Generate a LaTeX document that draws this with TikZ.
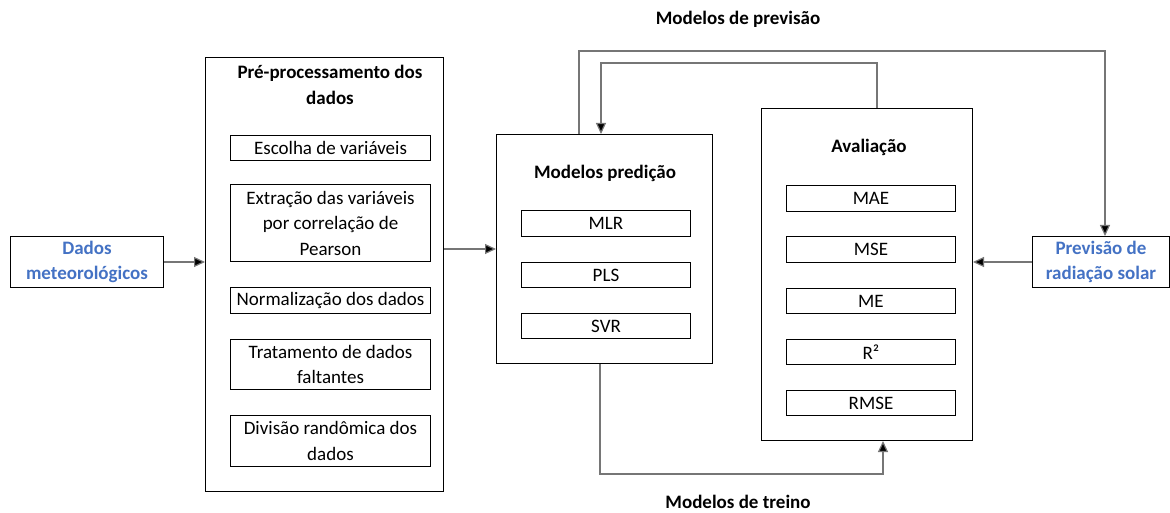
\documentclass[tikz,border=0pt]{standalone}
\usepackage{fontspec}
\setmainfont{Carlito}
\usetikzlibrary{arrows.meta}
\definecolor{azul}{HTML}{4472C4}
\definecolor{linha}{HTML}{767676}

\begin{document}
\begin{tikzpicture}[x=1pt,y=-1pt]
    \tikzset{every node/.style={inner sep=0pt, align=center, font=\fontsize{19}{25.5}\selectfont},
      box/.style={draw=black, line width=1pt, anchor=north west},
      titulo/.style={font=\fontsize{19}{25.5}\selectfont\bfseries},
      fonte/.style={box, text=azul, font=\fontsize{19}{25.5}\selectfont\bfseries},
      liga/.style={draw=linha, line width=1.2pt, -{Triangle[length=11pt,width=10pt,fill=black]}}}
    \useasboundingbox (0,0) rectangle (1170,513);
    % entrada e saida
    \node [fonte, minimum width=153, minimum height=51] (dados) at (10,236) {Dados\\meteorológicos};
    \node [fonte, minimum width=137, minimum height=51] (prev) at (1032,236) {Previsão de\\radiação solar};
    % pre-processamento
    \node [box, minimum width=238, minimum height=434] (pre) at (205,57) {};
    \node [titulo] (pretit) at (330,85) {Pré-processamento dos\\dados};
    \node [box, minimum width=200, minimum height=25] (esc) at (230,135) {Escolha de variáveis};
    \node [box, minimum width=200, minimum height=77] (ext) at (230,184) {Extração das variáveis\\por correlação de\\Pearson};
    \node [box, minimum width=200, minimum height=26] (norm) at (230,287) {Normalização dos dados};
    \node [box, minimum width=200, minimum height=50] (trat) at (230,339) {Tratamento de dados\\faltantes};
    \node [box, minimum width=200, minimum height=51] (div) at (230,415) {Divisão randômica dos\\dados};
    % modelos
    \node [box, minimum width=216, minimum height=229] (pred) at (496,134) {};
    \node [titulo] (predtit) at (605,173) {Modelos predição};
    \node [box, minimum width=169, minimum height=26] (mlr) at (521,210) {MLR};
    \node [box, minimum width=169, minimum height=25] (pls) at (521,262) {PLS};
    \node [box, minimum width=169, minimum height=25] (svr) at (521,313) {SVR};
    % avaliacao
    \node [box, minimum width=211, minimum height=332] (aval) at (761,108) {};
    \node [titulo] (avaltit) at (869,147) {Avaliação};
    \node [box, minimum width=169, minimum height=26] (mae) at (786,185) {MAE};
    \node [box, minimum width=169, minimum height=26] (mse) at (786,236) {MSE};
    \node [box, minimum width=169, minimum height=25] (me) at (786,288) {ME};
    \node [box, minimum width=169, minimum height=25] (r2) at (786,339) {R²};
    \node [box, minimum width=169, minimum height=25] (rmse) at (786,390) {RMSE};
    % rotulos dos lacos
    \node [titulo] (lbprev) at (738,19) {Modelos de previsão};
    \node [titulo] (lbtreino) at (738,502) {Modelos de treino};
    % ligacoes
    \draw [liga] (dados.east) -- (dados.east -| pre.west);
    \draw [liga] (pre.east |- pred.west) -- (pred.west);
    \draw [liga] (prev.west) -- (prev.west -| aval.east);
    \draw [liga] ([xshift=83]pred.north west) -- ++(0,-83) -| ([xshift=73]prev.north west);
    \draw [liga] ([xshift=116]aval.north west) -- ++(0,-45) -| ([xshift=105]pred.north west);
    \draw [liga] ([xshift=104]pred.south west) -- ++(0,110) -| ([xshift=122]aval.south west);
\end{tikzpicture}
\end{document}
